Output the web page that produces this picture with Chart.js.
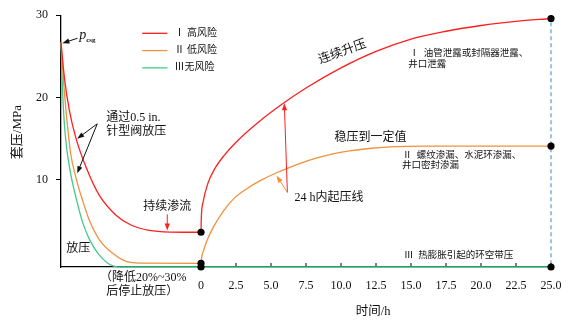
<!DOCTYPE html>
<html>
<head>
<meta charset="utf-8">
<script src="https://cdn.jsdelivr.net/npm/chart.js@4.4.1/dist/chart.umd.min.js"></script>
<style>
  html, body { margin: 0; padding: 0; background: #fff; }
</style>
</head>
<body>
<canvas id="annulus-chart" width="577" height="325"></canvas>
<script>
// casing pressure (MPa) vs time (h); time < 0 is the bleed-off phase drawn to the left of 0
const seriesNames = ['Ⅰ 高风险', 'Ⅱ 低风险', 'Ⅲ无风险'];

const highTime = [-10, -9.75, -9.4, -8.94, -8.2, -7.26, -6.07, -5.0, -3.7, -2.2, 0,
  0.02, 0.15, 0.5, 1.0, 1.6, 2.7, 4.1, 5.8, 7.5, 10.0, 12.5, 15.0, 17.5, 20.0, 22.5, 25.0];
const highPressure = [26.7, 22.3, 18.4, 15.1, 11.5, 8.1, 5.7, 4.5, 3.85, 3.65, 3.62,
  5.3, 7.3, 9.6, 11.4, 12.85, 14.9, 17.0, 19.2, 21.15, 23.6, 25.6, 27.1, 28.05, 28.75, 29.25, 29.6];

const lowTime = [-10, -9.82, -9.62, -9.3, -8.94, -8.46, -7.98, -7.26, -6.3, -5.3, -4.3, 0,
  0.05, 0.2, 0.45, 0.9, 1.6, 2.4, 3.3, 4.3, 5.4, 6.4, 7.7, 9.2, 10.6, 12.0, 13.5, 16.0, 25.0];
const lowPressure = [26.7, 22.0, 18.0, 13.1, 10.3, 7.5, 5.1, 2.7, 1.06, 0.05, -0.12, -0.15,
  0.6, 1.5, 2.7, 4.3, 6.2, 7.8, 8.95, 9.95, 10.85, 11.55, 12.35, 13.05, 13.5, 13.8, 14.0, 14.1, 14.1];

const noneTime = [-10, -9.88, -9.7, -9.36, -8.88, -8.43, -7.95, -7.26, -6.3, -5.5, 0, 25.0];
const nonePressure = [26.7, 20.5, 15.5, 11.2, 7.5, 4.7, 2.7, 0.85, -0.45, -0.6, -0.6, -0.6];

const markerTimes = [0, 25];

const xTickValues = [0, 2.5, 5, 7.5, 10, 12.5, 15, 17.5, 20, 22.5, 25];
const xTickLabels = ['0', '2.5', '5.0', '7.5', '10.0', '12.5', '15.0', '17.5', '20.0', '22.5', '25.0'];
const yTickValues = [10, 20, 30];

const colors = ['#ff1f1f', '#f0913c', '#45c98a'];
const INK = '#111';
const SERIF = '"Liberation Serif", "Noto Sans CJK SC"';

const series = [
  { time: highTime, pressure: highPressure },
  { time: lowTime, pressure: lowPressure },
  { time: noneTime, pressure: nonePressure }
];

const lineSets = series.map((s, i) => ({
  label: seriesNames[i],
  data: s.time.map((t, k) => ({ x: t, y: s.pressure[k] })),
  showLine: true,
  borderColor: colors[i],
  borderWidth: 1.3,
  pointRadius: 0,
  cubicInterpolationMode: 'monotone',
  clip: false,
  order: 1
}));

const markerData = [];
markerTimes.forEach(t => {
  series.forEach(s => {
    const k = s.time.indexOf(t);
    markerData.push({ x: t, y: s.pressure[k] });
  });
});

function arrow(ctx, x1, y1, x2, y2, color) {
  const a = Math.atan2(y2 - y1, x2 - x1);
  const len = 7, w = 2.6;
  ctx.save();
  ctx.strokeStyle = color;
  ctx.fillStyle = color;
  ctx.lineWidth = 1;
  ctx.beginPath();
  ctx.moveTo(x1, y1);
  ctx.lineTo(x2 - Math.cos(a) * len * 0.8, y2 - Math.sin(a) * len * 0.8);
  ctx.stroke();
  ctx.beginPath();
  ctx.moveTo(x2, y2);
  ctx.lineTo(x2 - Math.cos(a) * len - Math.sin(a) * w, y2 - Math.sin(a) * len + Math.cos(a) * w);
  ctx.lineTo(x2 - Math.cos(a) * len + Math.sin(a) * w, y2 - Math.sin(a) * len - Math.cos(a) * w);
  ctx.closePath();
  ctx.fill();
  ctx.restore();
}

const annotations = {
  id: 'annotations',
  beforeDatasetsDraw(chart) {
    const ctx = chart.ctx;
    const X = v => chart.scales.x.getPixelForValue(v);
    const area = chart.chartArea;
    ctx.save();
    // dashed marker at 25 h
    ctx.strokeStyle = '#5b9bd5';
    ctx.lineWidth = 1.2;
    ctx.setLineDash([4, 3]);
    ctx.beginPath();
    ctx.moveTo(X(25), area.top);
    ctx.lineTo(X(25), area.bottom);
    ctx.stroke();
    ctx.setLineDash([]);
    // inner tick marks on the time axis
    ctx.strokeStyle = '#000';
    ctx.lineWidth = 1;
    xTickValues.forEach(v => {
      ctx.beginPath();
      ctx.moveTo(X(v), area.bottom);
      ctx.lineTo(X(v), area.bottom - 4);
      ctx.stroke();
    });
    ctx.restore();
  },
  afterDraw(chart) {
    const ctx = chart.ctx;
    const X = v => chart.scales.x.getPixelForValue(v);
    const Y = v => chart.scales.y.getPixelForValue(v);
    ctx.save();
    ctx.textBaseline = 'middle';
    ctx.fillStyle = INK;

    // legend
    seriesNames.forEach((name, i) => {
      const y = Y(27.8 - i * 2.1);
      ctx.strokeStyle = colors[i];
      ctx.lineWidth = 1.3;
      ctx.beginPath();
      ctx.moveTo(X(-4.2), y);
      ctx.lineTo(X(-2.4), y);
      ctx.stroke();
      ctx.font = '10px ' + SERIF;
      ctx.textAlign = 'left';
      ctx.fillText(name, X(-1.9), y);
    });

    // p_csg
    ctx.font = 'italic 14px ' + SERIF;
    ctx.textAlign = 'left';
    ctx.fillText('p', X(-8.7), Y(27.5));
    ctx.font = 'bold 7px ' + SERIF;
    ctx.fillText('csg', X(-8.7) + 7, Y(27.5) + 4);
    arrow(ctx, X(-8.82), Y(27.2), X(-9.9), Y(26.6), INK);

    // bleed-off phase notes
    ctx.font = '12px ' + SERIF;
    ctx.fillText('通过0.5 in.', X(-6.77), Y(17.5));
    ctx.fillText('针型阀放压', X(-6.77), Y(15.8));
    arrow(ctx, X(-7.41), Y(16.8), X(-8.84), Y(15.0), INK);
    arrow(ctx, X(-7.41), Y(16.8), X(-8.84), Y(10.8), INK);

    ctx.textAlign = 'center';
    ctx.fillText('持续渗流', X(-2.41), Y(6.76));
    arrow(ctx, X(-2.41), Y(5.8), X(-2.41), Y(3.85), colors[0]);

    ctx.textAlign = 'left';
    ctx.fillText('放压', X(-9.63), Y(1.58));

    ctx.textAlign = 'center';
    ctx.fillText('（降低20%~30%', X(-4.13), Y(-1.95));
    ctx.fillText('后停止放压）', X(-4.2), Y(-3.6));

    // build-up phase notes
    ctx.save();
    ctx.translate(X(10.1), Y(25.5));
    ctx.rotate(-20 * Math.PI / 180);
    ctx.font = '12.5px ' + SERIF;
    ctx.fillText('连续升压', 0, 0);
    ctx.restore();

    ctx.textAlign = 'left';
    ctx.font = '12px ' + SERIF;
    ctx.fillText('稳压到一定值', X(9.53), Y(15.1));
    ctx.fillText('24 h内起压线', X(6.67), Y(7.86));
    arrow(ctx, X(6.17), Y(8.45), X(5.95), Y(19.3), colors[0]);
    arrow(ctx, X(6.17), Y(8.45), X(5.4), Y(10.5), colors[1]);

    ctx.font = '9.5px ' + SERIF;
    ctx.fillText('Ⅰ  油管泄露或封隔器泄露、', X(14.9), Y(25.4));
    ctx.fillText('井口泄露', X(14.8), Y(24.0));
    ctx.fillText('Ⅱ  螺纹渗漏、水泥环渗漏、', X(14.4), Y(12.9));
    ctx.fillText('井口密封渗漏', X(14.35), Y(11.7));
    ctx.fillText('Ⅲ  热膨胀引起的环空带压', X(14.5), Y(0.74));

    // axis titles
    ctx.font = '12.5px ' + SERIF;
    ctx.textAlign = 'center';
    ctx.fillText('时间/h', X(12.3), 312);
    ctx.save();
    ctx.translate(18, Y(15.8));
    ctx.rotate(-Math.PI / 2);
    ctx.font = '13px ' + SERIF;
    ctx.fillText('套压/MPa', 0, 0);
    ctx.restore();

    ctx.restore();
  }
};

new Chart(document.getElementById('annulus-chart').getContext('2d'), {
  type: 'scatter',
  data: {
    datasets: [
      {
        label: 'markers',
        data: markerData,
        pointRadius: 3.6,
        pointBackgroundColor: '#000',
        pointBorderWidth: 0,
        showLine: false,
        clip: false,
        order: 0
      },
      ...lineSets
    ]
  },
  options: {
    responsive: false,
    animation: false,
    layout: { padding: { left: 0, right: 26, top: 14, bottom: 0 } },
    plugins: { legend: { display: false }, tooltip: { enabled: false } },
    scales: {
      x: {
        type: 'linear',
        min: -10,
        max: 25,
        afterBuildTicks: axis => { axis.ticks = xTickValues.map(v => ({ value: v })); },
        afterFit: axis => { axis.height = 58; },
        grid: { display: false },
        border: { display: true, color: '#000', width: 1.3 },
        ticks: {
          padding: 4,
          color: INK,
          font: { family: SERIF, size: 12 },
          maxRotation: 0,
          autoSkip: false,
          callback: (v, i) => xTickLabels[i]
        }
      },
      y: {
        type: 'linear',
        min: -0.6,
        max: 30,
        afterBuildTicks: axis => { axis.ticks = yTickValues.map(v => ({ value: v })); },
        afterFit: axis => { axis.width = 61; },
        grid: { drawOnChartArea: false, color: '#000', tickLength: 5, tickWidth: 1 },
        border: { display: true, color: '#000', width: 1.3 },
        ticks: {
          padding: 8,
          color: INK,
          font: { family: SERIF, size: 12 }
        }
      }
    }
  },
  plugins: [annotations]
});
</script>
</body>
</html>
